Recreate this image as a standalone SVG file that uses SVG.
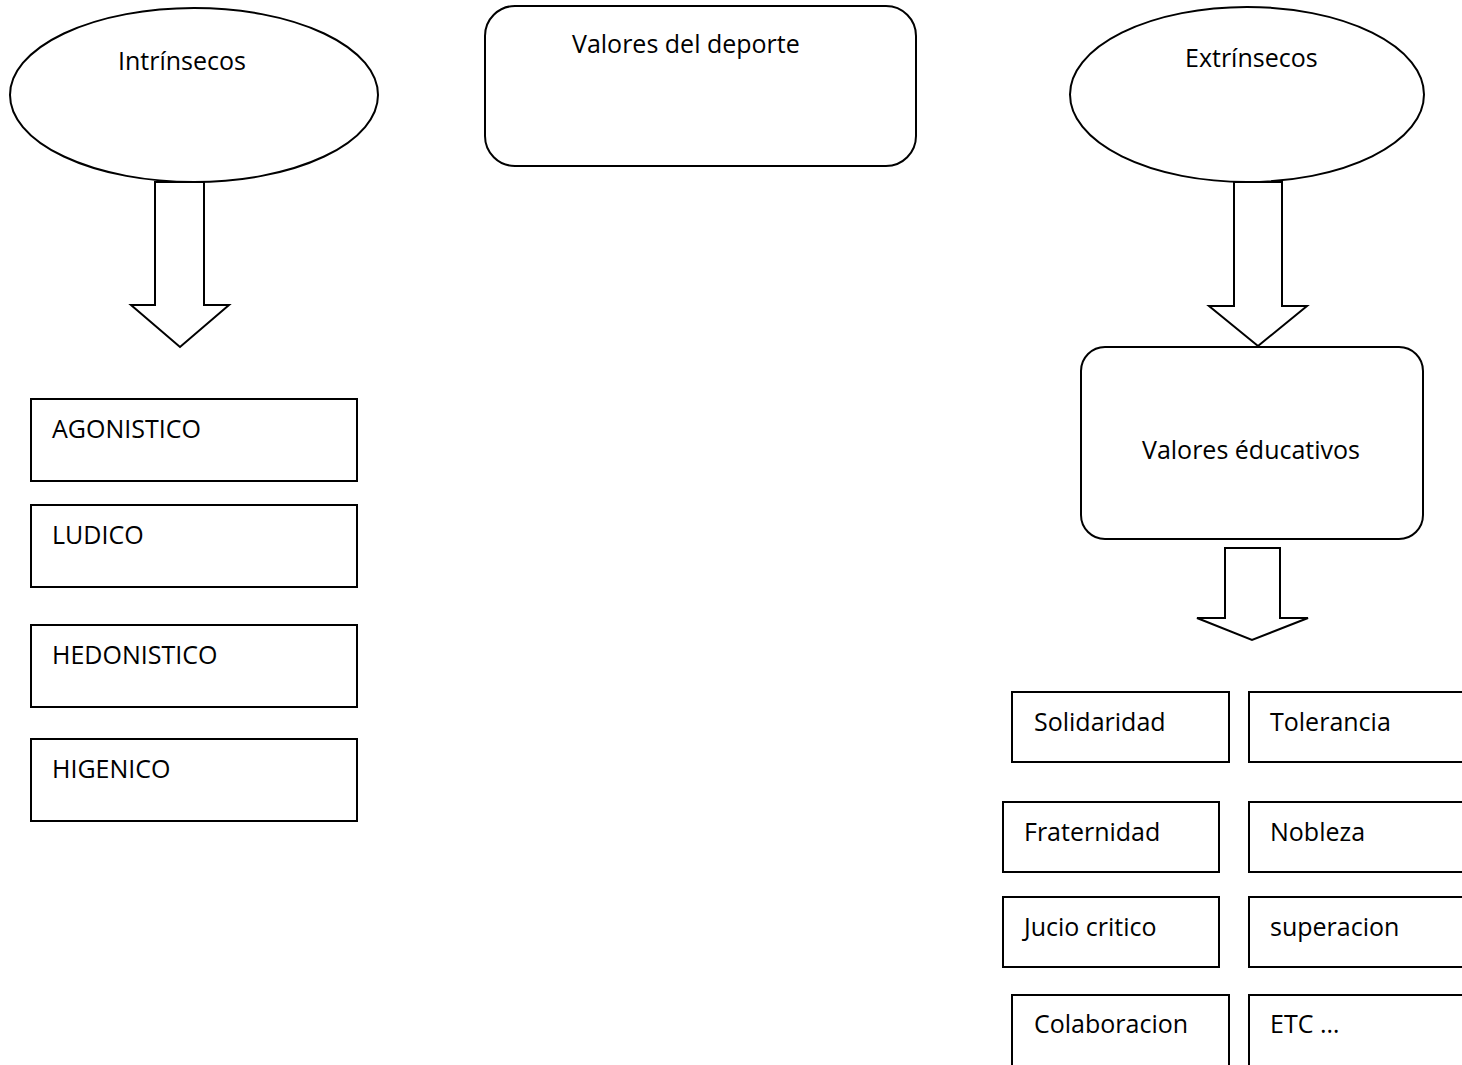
<svg xmlns="http://www.w3.org/2000/svg" width="1462" height="1065" viewBox="0 0 1462 1065">
<style>
.shape{fill:#ffffff;stroke:#000000;stroke-width:2}
.arrow{fill:#ffffff;stroke:#000000;stroke-width:2;stroke-linejoin:miter}
.t{font-family:"Open Sans","Liberation Sans",sans-serif;font-size:25px;fill:#000000}
</style>
<rect width="1462" height="1065" fill="#ffffff"/>
<g id="connectors">
<polygon class="arrow" points="155,182 204,182 204,305 229,305 180,347 131,305 155,305"/>
<polygon class="arrow" points="1234,182 1282,182 1282,306 1307,306 1258,346 1209,306 1234,306"/>
<polygon class="arrow" points="1225,548 1280,548 1280,618 1308,618 1252,640 1197,618 1225,618"/>
</g>
<g id="intrinsecos">
<ellipse class="shape" cx="194" cy="95" rx="184" ry="87"/>
<text class="t" x="118" y="70">Intrínsecos</text>
</g>
<g id="valores-deporte">
<rect class="shape" x="485" y="6" width="431" height="160" rx="30" ry="30"/>
<text class="t" x="572" y="53">Valores del deporte</text>
</g>
<g id="extrinsecos">
<ellipse class="shape" cx="1247" cy="94.5" rx="177" ry="87.5"/>
<text class="t" x="1185" y="67">Extrínsecos</text>
</g>
<g id="valores-educativos">
<rect class="shape" x="1081" y="347" width="342" height="192" rx="24" ry="24"/>
<text class="t" x="1142" y="459">Valores éducativos</text>
</g>
<g id="agonistico">
<rect class="shape" x="31" y="399" width="326" height="82"/>
<text class="t" x="52" y="438">AGONISTICO</text>
</g>
<g id="ludico">
<rect class="shape" x="31" y="505" width="326" height="82"/>
<text class="t" x="52" y="544">LUDICO</text>
</g>
<g id="hedonistico">
<rect class="shape" x="31" y="625" width="326" height="82"/>
<text class="t" x="52" y="664">HEDONISTICO</text>
</g>
<g id="higenico">
<rect class="shape" x="31" y="739" width="326" height="82"/>
<text class="t" x="52" y="778">HIGENICO</text>
</g>
<g id="solidaridad">
<rect class="shape" x="1012" y="692" width="217" height="70"/>
<text class="t" x="1034" y="731">Solidaridad</text>
</g>
<g id="tolerancia">
<rect class="shape" x="1249" y="692" width="230" height="70"/>
<text class="t" x="1270" y="731">Tolerancia</text>
</g>
<g id="fraternidad">
<rect class="shape" x="1003" y="802" width="216" height="70"/>
<text class="t" x="1024" y="841">Fraternidad</text>
</g>
<g id="nobleza">
<rect class="shape" x="1249" y="802" width="230" height="70"/>
<text class="t" x="1270" y="841">Nobleza</text>
</g>
<g id="jucio-critico">
<rect class="shape" x="1003" y="897" width="216" height="70"/>
<text class="t" x="1024" y="936">Jucio critico</text>
</g>
<g id="superacion">
<rect class="shape" x="1249" y="897" width="230" height="70"/>
<text class="t" x="1270" y="936">superacion</text>
</g>
<g id="colaboracion">
<rect class="shape" x="1012" y="995" width="217" height="100"/>
<text class="t" x="1034" y="1033">Colaboracion</text>
</g>
<g id="etc">
<rect class="shape" x="1249" y="995" width="230" height="100"/>
<text class="t" x="1270" y="1033">ETC …</text>
</g>
</svg>
